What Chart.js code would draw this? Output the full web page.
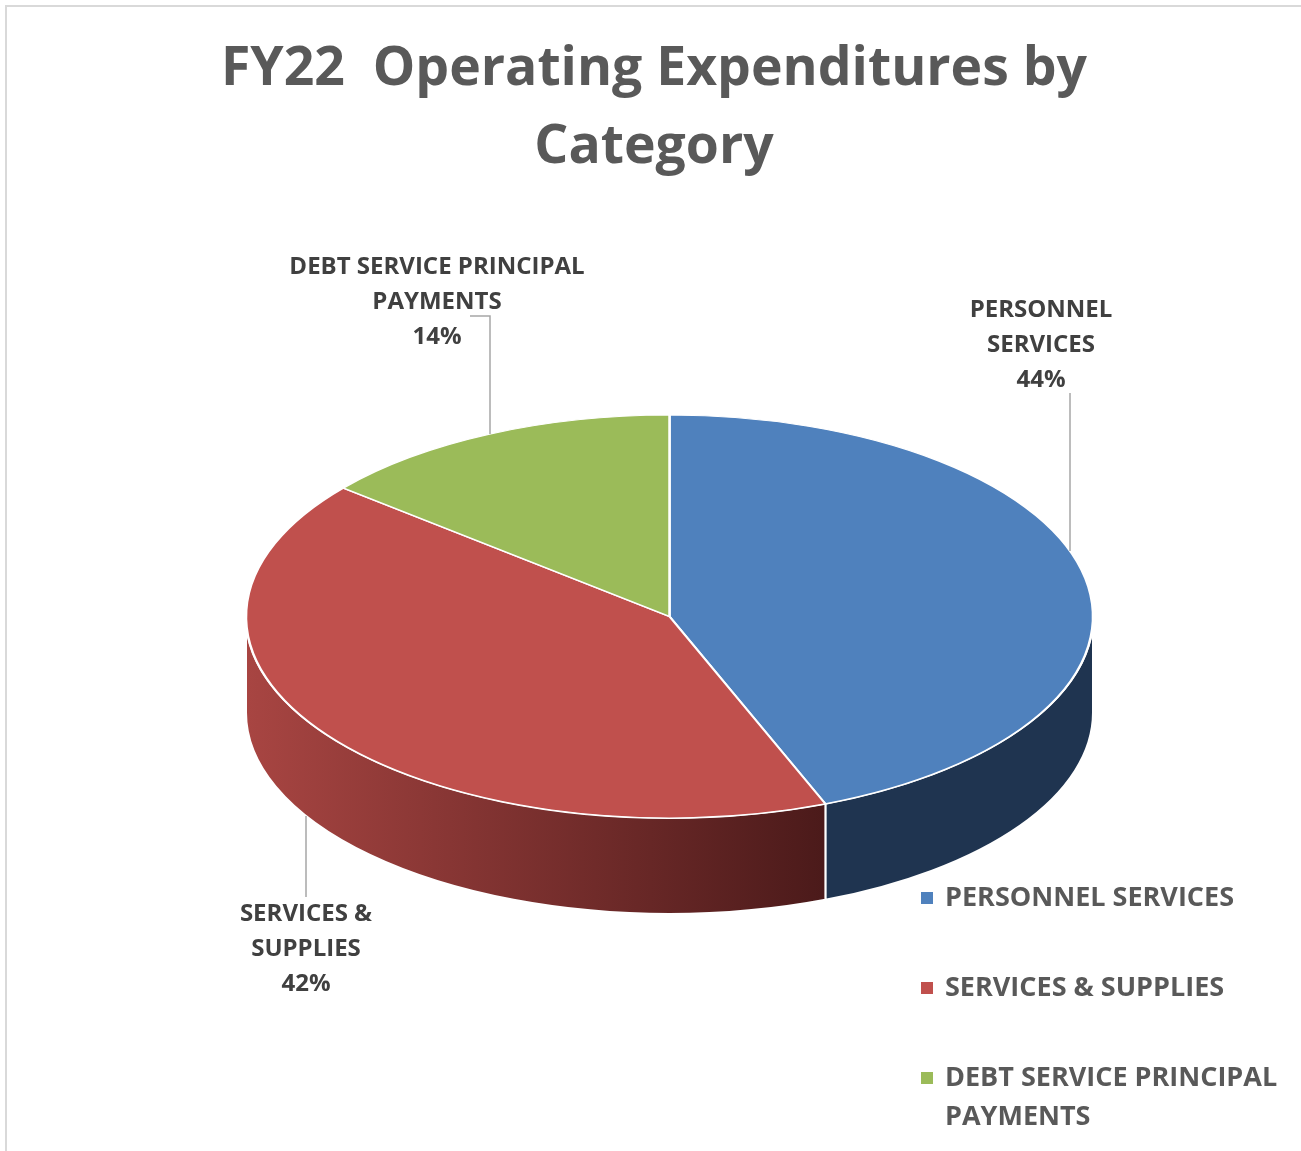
<!DOCTYPE html>
<html>
<head>
<meta charset="utf-8">
<script src="https://cdn.jsdelivr.net/npm/chart.js@4.4.1/dist/chart.umd.min.js"></script>
<style>
  html, body { margin: 0; padding: 0; background: #fff; }
  #wrap { position: relative; width: 1301px; height: 1151px; overflow: hidden; }
  #frame { position: absolute; left: 5px; top: 5px; width: 1400px; height: 1300px;
           border-left: 2px solid #d9d9d9; border-top: 2px solid #d9d9d9; }
  canvas { position: absolute; left: 0; top: 0; }
</style>
</head>
<body>
<div id="wrap"><div id="frame"></div><canvas id="chart" width="1301" height="1151"></canvas></div>
<script>
var CATEGORIES = ['PERSONNEL SERVICES', 'SERVICES & SUPPLIES', 'DEBT SERVICE PRINCIPAL PAYMENTS'];
var VALUES = [44, 42, 14];
var TITLE_LINES = ['FY22  Operating Expenditures by', 'Category'];

var TOP_COLORS = ['#4F81BD', '#C0504D', '#9BBB59'];
var SIDE_COLORS = [['#1F3450', '#1F3450'], ['#A84542', '#4B1A1A'], ['#5E7634', '#5E7634']];
var FONT = '"Open Sans", Lato, sans-serif';

// where the flattened pie sits on the page (top face ellipse + wall height)
var PIE = { cx: 669.5, cy: 616.5, rx: 423.5, ry: 201.5, depth: 96 };

// data label boxes: centre x, first line centre y, wrap width, leader start points
var LABEL_LAYOUT = [
    { x: 1041, y: 310, wrap: 170, lead: [[1070, 393]] },
    { x: 306, y: 914, wrap: 170, lead: [[306, 897]] },
    { x: 437, y: 267, wrap: 340, lead: [[470, 316], [490, 316]] }
];
var LEGEND = { box: 12, boxX: 921, textX: 945, y: 898, gap: 90, lineH: 39, wrap: 345 };

function wrapText(ctx, text, maxW) {
    var words = text.split(' ');
    var lines = [];
    var cur = '';
    words.forEach(function (w) {
        var t = cur ? cur + ' ' + w : w;
        if (cur && ctx.measureText(t).width > maxW) {
            lines.push(cur);
            cur = w;
        } else {
            cur = t;
        }
    });
    if (cur) lines.push(cur);
    return lines;
}

// y of the pie outline at a given x (upper edge of top face, or bottom edge of the wall)
function outlineY(x, upper) {
    var dx = (x - PIE.cx) / PIE.rx;
    var h = PIE.ry * Math.sqrt(Math.max(0, 1 - dx * dx));
    return upper ? PIE.cy - h : PIE.cy + h + PIE.depth;
}

var pie3d = {
    id: 'pie3d',
    beforeDatasetsDraw(chart) {
        var ctx = chart.ctx;
        var arcs = chart.getDatasetMeta(0).data;
        // side walls, only the front half (angles 0..PI) can be seen
        arcs.forEach(function (arc, i) {
            var a1 = Math.max(arc.startAngle, 0);
            var a2 = Math.min(arc.endAngle, Math.PI);
            if (a2 <= a1) return;
            ctx.beginPath();
            ctx.ellipse(PIE.cx, PIE.cy, PIE.rx, PIE.ry, 0, a1, a2);
            ctx.lineTo(PIE.cx + PIE.rx * Math.cos(a2), PIE.cy + PIE.ry * Math.sin(a2) + PIE.depth);
            ctx.ellipse(PIE.cx, PIE.cy + PIE.depth, PIE.rx, PIE.ry, 0, a2, a1, true);
            ctx.closePath();
            var xl = PIE.cx + PIE.rx * Math.cos(a2);
            var xr = PIE.cx + PIE.rx * Math.cos(a1);
            var grad = ctx.createLinearGradient(xl, 0, xr, 0);
            grad.addColorStop(0, SIDE_COLORS[i][0]);
            grad.addColorStop(1, SIDE_COLORS[i][1]);
            ctx.fillStyle = grad;
            ctx.fill();
            ctx.strokeStyle = '#ffffff';
            ctx.lineWidth = 2;
            ctx.stroke();
        });
        // flatten the library's pie onto the ellipse
        var a0 = arcs[0];
        ctx.save();
        ctx.translate(PIE.cx, PIE.cy);
        ctx.scale(PIE.rx / a0.outerRadius, PIE.ry / a0.outerRadius);
        ctx.translate(-a0.x, -a0.y);
    },
    afterDatasetsDraw(chart) {
        var ctx = chart.ctx;
        ctx.restore();
        var total = VALUES.reduce(function (a, b) { return a + b; }, 0);

        // data labels + leader lines
        ctx.save();
        ctx.font = 'bold 24px ' + FONT;
        ctx.textAlign = 'center';
        ctx.textBaseline = 'middle';
        CATEGORIES.forEach(function (name, i) {
            var lay = LABEL_LAYOUT[i];
            var lines = wrapText(ctx, name, lay.wrap);
            lines.push(Math.round(VALUES[i] / total * 100) + '%');
            ctx.fillStyle = '#404040';
            lines.forEach(function (ln, j) {
                ctx.fillText(ln, lay.x, lay.y + j * 35);
            });
            var last = lay.lead[lay.lead.length - 1];
            ctx.beginPath();
            ctx.moveTo(lay.lead[0][0], lay.lead[0][1]);
            lay.lead.forEach(function (p) { ctx.lineTo(p[0], p[1]); });
            ctx.lineTo(last[0], outlineY(last[0], lay.y < PIE.cy));
            ctx.strokeStyle = '#a6a6a6';
            ctx.lineWidth = 1.5;
            ctx.stroke();
        });
        ctx.restore();

        // legend
        ctx.save();
        ctx.font = 'bold 27px ' + FONT;
        ctx.textAlign = 'left';
        ctx.textBaseline = 'middle';
        CATEGORIES.forEach(function (name, i) {
            var y = LEGEND.y + i * LEGEND.gap;
            ctx.fillStyle = TOP_COLORS[i];
            ctx.fillRect(LEGEND.boxX, y - LEGEND.box / 2, LEGEND.box, LEGEND.box);
            ctx.fillStyle = '#595959';
            wrapText(ctx, name, LEGEND.wrap).forEach(function (ln, j) {
                ctx.fillText(ln, LEGEND.textX, y + j * LEGEND.lineH);
            });
        });
        ctx.restore();
    }
};

new Chart(document.getElementById('chart'), {
    type: 'pie',
    data: {
        labels: CATEGORIES,
        datasets: [{
            data: VALUES,
            backgroundColor: TOP_COLORS,
            borderColor: '#ffffff',
            borderWidth: 2.5,
            hoverOffset: 0,
            clip: false
        }]
    },
    options: {
        responsive: false,
        animation: false,
        events: [],
        radius: PIE.rx,
        layout: { padding: { left: 7 } },
        plugins: {
            legend: { display: false },
            tooltip: { enabled: false },
            title: {
                display: true,
                text: TITLE_LINES,
                color: '#595959',
                font: { family: FONT, size: 53.5, weight: 'bold', lineHeight: 1.45 },
                padding: { top: 31, bottom: 20 }
            }
        }
    },
    plugins: [pie3d]
});
</script>
</body>
</html>
